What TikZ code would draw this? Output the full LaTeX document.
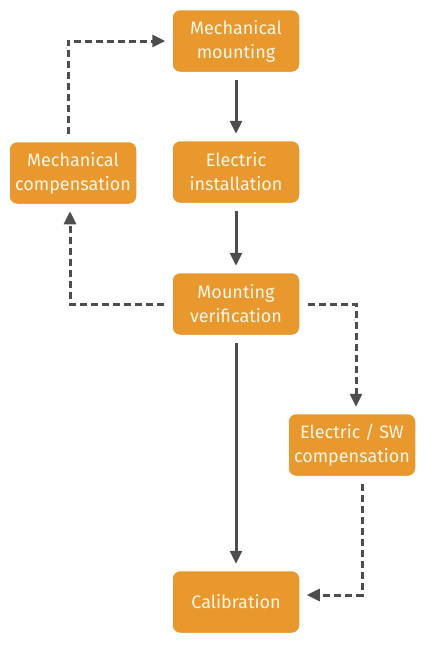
\documentclass[tikz,border=0pt]{standalone}
\usepackage{fontspec}
\setmainfont{Fira Sans}
\usetikzlibrary{arrows.meta,shadows}

\definecolor{boxorange}{HTML}{E8982C}
\definecolor{arrowgray}{HTML}{4D4D4D}
\definecolor{boxtext}{HTML}{FFF6E6}

\begin{document}
\begin{tikzpicture}[x=1pt,y=1pt,
        font=\fontsize{18}{24}\selectfont,
        stage/.style={fill=boxorange,draw=white,line width=3.5pt,rounded corners=9pt,
            minimum width=130pt,minimum height=65pt,inner xsep=6pt,align=center,text=boxtext,
            drop shadow={shadow xshift=0pt,shadow yshift=-1pt,opacity=0.25,fill=black}},
        flow/.style={draw=arrowgray,line width=3pt,-{Triangle[length=13pt,width=12pt]},
            shorten >=4pt,shorten <=5pt},
        fixloop/.style={flow,dash pattern=on 7pt off 4pt}]

    \useasboundingbox (0,0) rectangle (439,-646);

    % main line
    \node[stage] (mount)    at (236,-41)  {Mechanical\\mounting};
    \node[stage] (install)  at (236,-172) {Electric\\installation};
    \node[stage] (verify)   at (236,-304) {Mounting\\verification};
    \node[stage] (calib)    at (236,-602) {Calibration};
    % compensation loops
    \node[stage] (mechcomp) at (73,-173)  {Mechanical\\compensation};
    \node[stage] (swcomp)   at (352,-445) {Electric / SW\\compensation};

    \draw[flow] (mount) -- (install);
    \draw[flow] (install) -- (verify);
    \draw[flow] (verify) -- (calib);

    \draw[fixloop] (verify.west) -| ([xshift=-3pt]mechcomp.south);
    \draw[fixloop] ([xshift=-5pt]mechcomp.north) |- (mount.west);
    \draw[fixloop] (verify.east) -| ([xshift=4pt]swcomp.north);
    \draw[fixloop] ([xshift=10pt]swcomp.south) |- ([yshift=7pt]calib.east);
\end{tikzpicture}
\end{document}
